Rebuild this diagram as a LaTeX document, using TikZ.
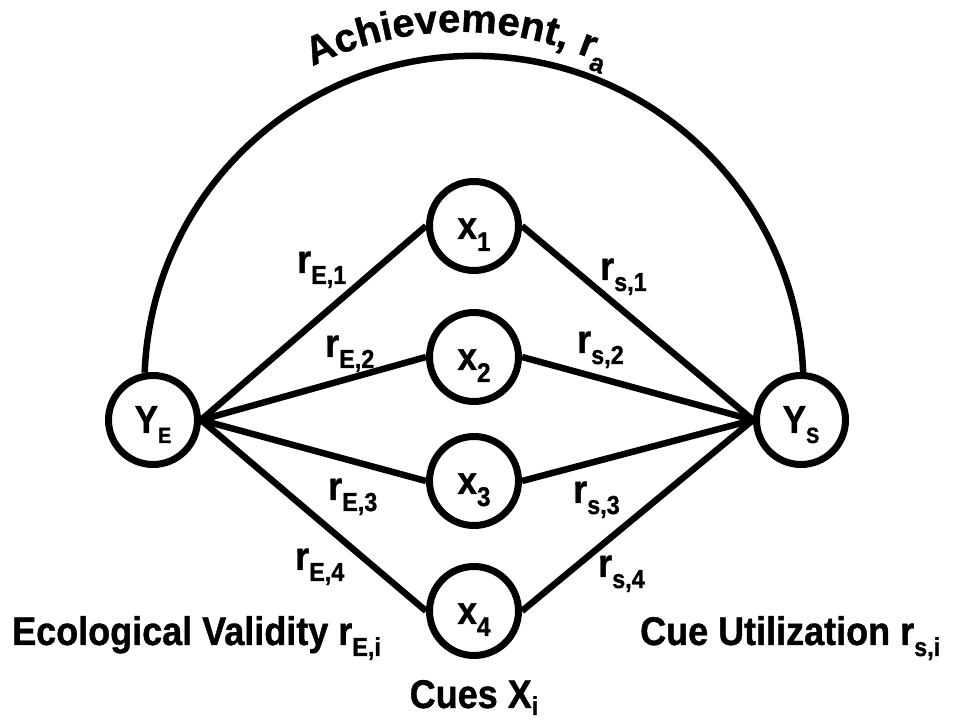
\documentclass[tikz,border=0pt]{standalone}
\usepackage{fontspec}
\setmainfont{Liberation Sans}[FakeBold=1]
\newfontfamily\condfont[FakeStretch=0.9,FakeBold=1]{Liberation Sans}
\usetikzlibrary{decorations.text}
\newcommand{\esub}[2]{#1\raisebox{-11pt}{\fontsize{26}{26}\selectfont #2}}
\newcommand{\ysub}[2]{#1\raisebox{-10pt}{\fontsize{22}{22}\selectfont #2}}
\newcommand{\xsub}[2]{#1\raisebox{-12pt}{\fontsize{27}{27}\selectfont #2}}
\newcommand{\csub}[2]{#1\raisebox{-7pt}{\fontsize{26}{26}\selectfont #2}}
\newcommand{\topfont}{\bfseries\fontsize{40}{40}\selectfont}
\begin{document}
\begin{tikzpicture}[x=1pt,y=1pt,
  cnode/.style={circle, draw, line width=7pt, minimum size=89pt, inner sep=0pt,
    text height=32pt, text depth=6pt,
    font=\condfont\bfseries\fontsize{39}{39}\selectfont},
  lbl/.style={anchor=base west, inner sep=0pt,
    font=\condfont\bfseries\fontsize{40}{40}\selectfont},
  link/.style={line width=6.5pt}]
\useasboundingbox (0,0) rectangle (954,723);
% nodes
\node[cnode] (YE) at (153,303) {\ysub{Y}{E}};
\node[cnode] (YS) at (801,303) {\ysub{Y}{S}};
\node[cnode] (x1) at (474,497) {\xsub{x}{1}};
\node[cnode] (x2) at (474,366) {\xsub{x}{2}};
\node[cnode] (x3) at (474,242) {\xsub{x}{3}};
\node[cnode] (x4) at (474,112) {\xsub{x}{4}};
% connectors
\foreach \i in {1,2,3,4}{
  \draw[link] (YE.east) -- (x\i.west);
  \draw[link] (x\i.east) -- (YS.west);
}
% achievement arc
\draw[link] (YE.100) arc[start angle=177.8, end angle=2.2, radius=329.5];
\coordinate (TC) at (460,358);
\path[decorate, decoration={text along path, text={|\topfont|Achievement,}, text align=left}]
  (TC) ++(116.3:333) arc[start angle=116.3, end angle=60, radius=333];
\path (TC) ++(69.5:333) node[anchor=base west, rotate=-20.5, inner sep=0pt, font=\topfont] (ra) {\esub{r}{a}};
% edge labels
\node[lbl] (lE1) at (297,450) {\esub{r}{E,1}};
\node[lbl] (lE2) at (325,366) {\esub{r}{E,2}};
\node[lbl] (lE3) at (328,223) {\esub{r}{E,3}};
\node[lbl] (lE4) at (295,153) {\esub{r}{E,4}};
\node[lbl] (ls1) at (600,443) {\esub{r}{s,1}};
\node[lbl] (ls2) at (577,370) {\esub{r}{s,2}};
\node[lbl] (ls3) at (573,220) {\esub{r}{s,3}};
\node[lbl] (ls4) at (598,146) {\esub{r}{s,4}};
% captions
\node[lbl] (ev) at (12,78) {Ecological Validity \esub{r}{E,i}};
\node[lbl] (cu) at (640,78) {Cue Utilization \esub{r}{s,i}};
\node[lbl, anchor=base] (cues) at (474,15) {Cues \csub{X}{i}};
\end{tikzpicture}
\end{document}
